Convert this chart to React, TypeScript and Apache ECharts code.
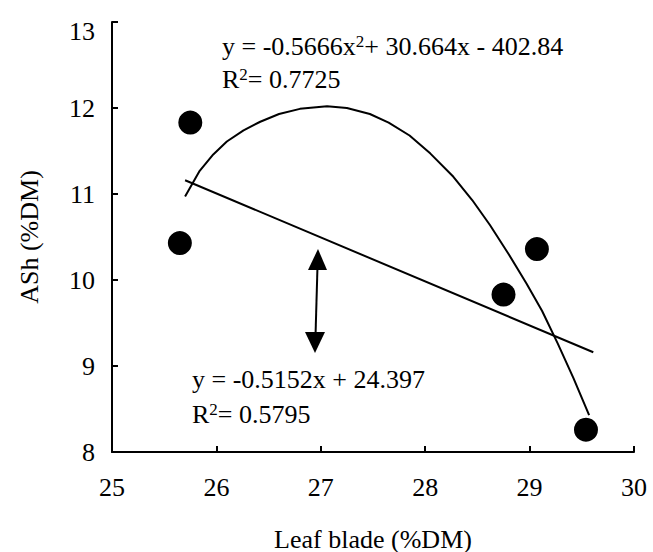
import React, { useEffect, useRef } from "react";
import * as echarts from "echarts";

const points: [number, number][] = [
  [25.65, 10.43],
  [25.75, 11.83],
  [28.75, 9.83],
  [29.07, 10.36],
  [29.54, 8.26],
];

const linearFit: [number, number][] = [
  [25.7, 11.16],
  [29.61, 9.16],
];

const polyFit: [number, number][] = [
  [25.7, 10.97],
  [25.84, 11.27],
  [25.97, 11.46],
  [26.1, 11.61],
  [26.26, 11.74],
  [26.42, 11.84],
  [26.6, 11.93],
  [26.8, 11.99],
  [27.06, 12.02],
  [27.25, 12.0],
  [27.47, 11.93],
  [27.65, 11.83],
  [27.85, 11.68],
  [28.05, 11.47],
  [28.27, 11.2],
  [28.45, 10.93],
  [28.62, 10.64],
  [28.8, 10.3],
  [28.97, 9.96],
  [29.12, 9.64],
  [29.27, 9.26],
  [29.42, 8.86],
  [29.57, 8.43],
];

const FONT = "'Liberation Serif', 'Times New Roman', serif";

export default function App() {
  const ref = useRef<HTMLDivElement>(null);
  useEffect(() => {
    if (!ref.current) return;
    const chart = echarts.init(ref.current, null, { renderer: "svg" });
    const rich = {
      n: { fontFamily: FONT, fontSize: 26, color: "#000" },
      s: { fontFamily: FONT, fontSize: 17, color: "#000", verticalAlign: "top" as const },
    };
    chart.setOption({
      animation: false,
      backgroundColor: "#fff",
      grid: { left: 112, top: 22, right: 19, bottom: 100, outerBoundsMode: "none", containLabel: false },
      xAxis: {
        type: "value",
        min: 25,
        max: 30,
        interval: 1,
        name: "Leaf blade (%DM)",
        nameLocation: "middle",
        nameGap: 74,
        nameTextStyle: { fontFamily: FONT, fontSize: 26, color: "#000" },
        axisLine: { lineStyle: { color: "#000", width: 2 } },
        axisTick: { inside: true, length: 6, lineStyle: { color: "#000", width: 2 } },
        axisLabel: { margin: 22, fontFamily: FONT, fontSize: 26, color: "#000" },
        splitLine: { show: false },
      },
      yAxis: {
        type: "value",
        min: 8,
        max: 13,
        interval: 1,
        name: "ASh (%DM)",
        nameLocation: "middle",
        nameGap: 70,
        nameRotate: 90,
        nameTextStyle: { fontFamily: FONT, fontSize: 26, color: "#000" },
        axisLine: { show: true, lineStyle: { color: "#000", width: 2 } },
        axisTick: { show: true, inside: true, length: 6, lineStyle: { color: "#000", width: 2 } },
        axisLabel: {
          margin: 17,
          fontFamily: FONT,
          fontSize: 26,
          color: "#000",
          formatter: (v: number) => (v === 13 ? "{t|13}" : String(v)),
          rich: {
            t: { fontFamily: FONT, fontSize: 26, color: "#000", padding: [18, 0, 0, 0] },
          },
        },
        splitLine: { show: false },
      },
      series: [
        {
          type: "line",
          data: polyFit,
          showSymbol: false,
          smooth: false,
          lineStyle: { color: "#000", width: 2 },
          z: 2,
        },
        {
          type: "line",
          data: linearFit,
          showSymbol: false,
          lineStyle: { color: "#000", width: 2 },
          z: 2,
        },
        {
          type: "scatter",
          data: points,
          symbol: "circle",
          symbolSize: 24,
          itemStyle: { color: "#000", opacity: 1 },
          z: 3,
        },
      ],
      graphic: [
        {
          type: "text",
          left: 222,
          top: 33,
          style: {
            text: "{n|y = -0.5666x}{s|2}{n|+ 30.664x - 402.84}",
            rich,
          },
        },
        {
          type: "text",
          left: 222,
          top: 66,
          style: { text: "{n|R}{s|2}{n|= 0.7725}", rich },
        },
        {
          type: "text",
          left: 192,
          top: 366,
          style: { text: "{n|y = -0.5152x + 24.397}", rich },
        },
        {
          type: "text",
          left: 192,
          top: 401,
          style: { text: "{n|R}{s|2}{n|= 0.5795}", rich },
        },
        {
          type: "line",
          shape: { x1: 317.5, y1: 266, x2: 315.5, y2: 336 },
          style: { stroke: "#000", lineWidth: 2 },
        },
        {
          type: "polygon",
          shape: { points: [[318, 249], [308, 270], [327, 270]] },
          style: { fill: "#000" },
        },
        {
          type: "polygon",
          shape: { points: [[315, 353], [305, 332], [325, 332]] },
          style: { fill: "#000" },
        },
      ],
    });
    return () => chart.dispose();
  }, []);
  return (
    <div
      ref={ref}
      style={{ position: "fixed", left: 0, top: 0, width: 653, height: 552 }}
    />
  );
}
